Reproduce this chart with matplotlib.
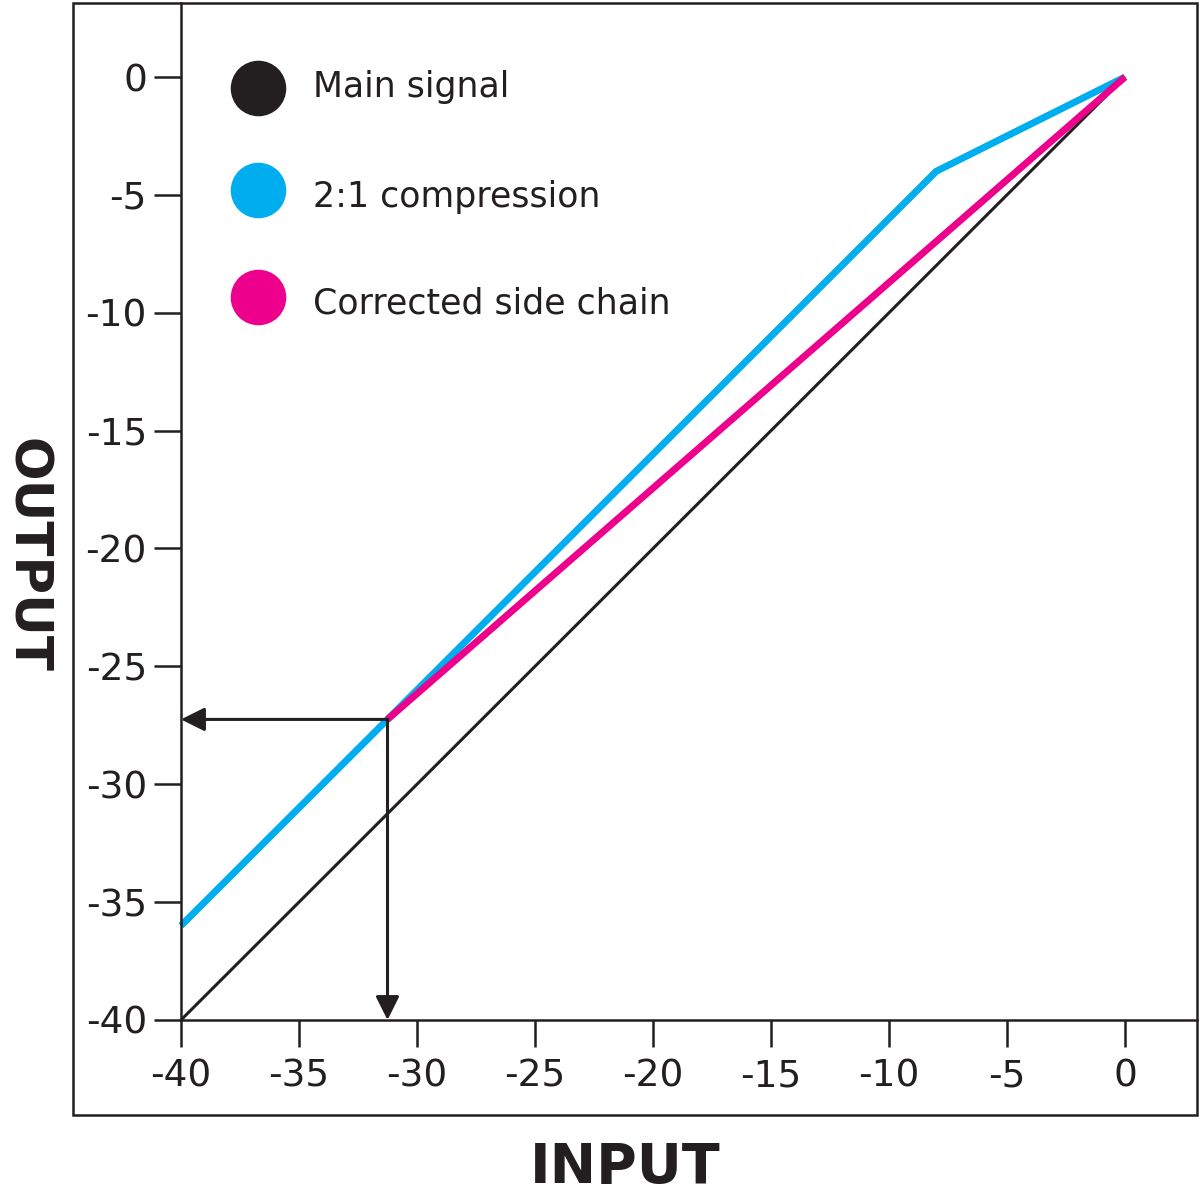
import numpy as np
import matplotlib.pyplot as plt
from matplotlib.patches import Rectangle

# transfer curves (dB)
main_x = [-40, 0]
main_y = [-40, 0]
comp_x = [-40, -8, 0]
comp_y = [-36, -4, 0]
corr_x = [-31.25, 0]
corr_y = [-27.25, 0]
read_x = -31.25
read_y = -27.25

ticks = [-40, -35, -30, -25, -20, -15, -10, -5, 0]
labels = ["Main signal", "2:1 compression", "Corrected side chain"]
colors = ["#231f20", "#00aeef", "#ec008c"]

black = "#231f20"
plt.rcParams['font.family'] = ['DejaVu Sans']

fig = plt.figure(figsize=(12, 11.93), dpi=100)
ax = fig.add_axes([73/1200, (1193-1115)/1193, 1124/1200, 1112/1193])

ax.set_xlim(-44.576, 3.05)
ax.set_ylim(-44.03, 3.139)

for s in ax.spines.values():
    s.set_visible(False)
ax.spines['left'].set_visible(True)
ax.spines['bottom'].set_visible(True)
ax.spines['left'].set_position(('data', -40))
ax.spines['bottom'].set_position(('data', -40))
ax.spines['left'].set_bounds(-40, 3.139)
ax.spines['bottom'].set_bounds(-40, 3.05)
for s in ['left', 'bottom']:
    ax.spines[s].set_linewidth(1.8)
    ax.spines[s].set_color(black)

ax.add_patch(Rectangle((0, 0), 1, 1, transform=ax.transAxes, fill=False,
                       lw=1.8, ec=black, clip_on=False))

ax.set_xticks(ticks)
ax.set_yticks(ticks)
ax.set_xticklabels([str(t) for t in ticks])
ax.set_yticklabels([str(t) for t in ticks])
ax.tick_params(direction='out', length=19.5, width=1.8, color=black,
               labelsize=27, labelcolor=black)
ax.tick_params(axis='x', pad=8)
ax.tick_params(axis='y', pad=5)

ax.plot(main_x, main_y, color=colors[0], lw=2.2, solid_capstyle='butt')
ax.plot(comp_x, comp_y, color=colors[1], lw=5, solid_capstyle='butt')
ax.plot(corr_x, corr_y, color=colors[2], lw=5, solid_capstyle='butt')

# read-off arrows
arrow = dict(arrowstyle='-|>', color=black, lw=2.2, mutation_scale=36,
             shrinkA=0, shrinkB=0)
ax.annotate("", xy=(-40, read_y), xytext=(read_x, read_y), arrowprops=arrow)
ax.annotate("", xy=(read_x, -40), xytext=(read_x, read_y), arrowprops=arrow)

# legend
mark_y = [0.9236, 0.8318, 0.7356]
text_y = [0.9155, 0.8165, 0.7212]
for lab, c, my, ty in zip(labels, colors, mark_y, text_y):
    ax.plot([0.1646], [my], 'o', ms=40, color=c, mec='none', transform=ax.transAxes)
    ax.text(0.2135, ty, lab, fontsize=25, color=black, transform=ax.transAxes,
            va='baseline', ha='left')

fig.text(625/1200, 1 - 1168/1193, "INPUT", fontsize=40, fontweight='bold',
         color=black, ha='center', va='center')
fig.text(26/1200, 1 - 555/1193, "OUTPUT", fontsize=37, fontweight='bold',
         color=black, ha='center', va='center', rotation=-90)

fig.savefig("out.png", dpi=100)
